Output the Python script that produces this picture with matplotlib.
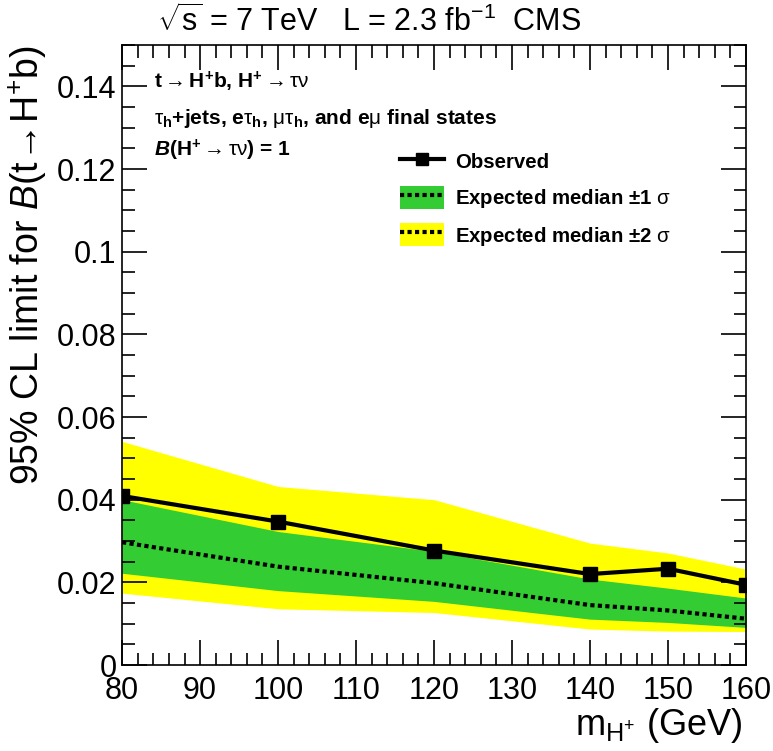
import numpy as np
import matplotlib
matplotlib.use("Agg")
import matplotlib.pyplot as plt
from matplotlib.lines import Line2D
from matplotlib.patches import Patch
from matplotlib.ticker import MultipleLocator

# fonts: Helvetica look-alike for everything, incl. math
plt.rcParams['font.family'] = ['Liberation Sans', 'DejaVu Sans']
plt.rcParams['mathtext.fontset'] = 'custom'
plt.rcParams['mathtext.rm'] = 'Liberation Sans'
plt.rcParams['mathtext.it'] = 'Liberation Sans:italic'
plt.rcParams['mathtext.bf'] = 'Liberation Sans:bold'
plt.rcParams['mathtext.bfit'] = 'Liberation Sans:italic:bold'

# Data
mass = [80, 100, 120, 140, 150, 160]
observed = [0.0409, 0.0347, 0.0277, 0.0220, 0.0233, 0.0194]
exp_median = [0.0297, 0.0238, 0.0198, 0.0145, 0.0132, 0.0112]
exp_m1 = [0.0222, 0.0180, 0.0154, 0.0111, 0.0103, 0.0091]
exp_p1 = [0.0400, 0.0323, 0.0275, 0.0208, 0.0186, 0.0162]
exp_m2 = [0.0174, 0.0136, 0.0127, 0.0087, 0.0082, 0.0081]
exp_p2 = [0.0541, 0.0432, 0.0400, 0.0295, 0.0271, 0.0232]

green = '#33cc33'
yellow = '#ffff00'
dots = (0, (1, 0.8))
arrow = r'$\rightarrow$'

fig = plt.figure(figsize=(7.73, 7.51), dpi=100)
ax = fig.add_axes([0.158, 0.1145, 0.807, 0.8255])

ax.fill_between(mass, exp_m2, exp_p2, color=yellow, lw=0)
ax.fill_between(mass, exp_m1, exp_p1, color=green, lw=0)
ax.plot(mass, exp_median, color='black', lw=3, ls=dots)
ax.plot(mass, observed, color='black', lw=3, marker='s', ms=10)

ax.set_xlim(80, 160)
ax.set_ylim(0, 0.15)
ax.xaxis.set_major_locator(MultipleLocator(10))
ax.xaxis.set_minor_locator(MultipleLocator(2))
ax.yaxis.set_major_locator(MultipleLocator(0.02))
ax.yaxis.set_minor_locator(MultipleLocator(0.005))
ax.yaxis.set_major_formatter(plt.FuncFormatter(lambda v, p: '0' if v == 0 else f'{v:g}'))
ax.tick_params(which='both', direction='in', top=True, right=True, width=1.2)
ax.tick_params(which='major', length=18, labelsize=22)
ax.tick_params(which='minor', length=9)
ax.tick_params(axis='x', pad=8)
ax.tick_params(axis='y', pad=4)
for s in ax.spines.values():
    s.set_linewidth(1.2)

ax.set_ylabel(r"95% CL limit for $\mathit{B}$(t$\!\rightarrow\!$H$^{+}$b)", fontsize=27)
ax.yaxis.set_label_coords(-0.118, 1.0)
ax.yaxis.label.set_ha('right')
ax.set_xlabel(r"m$_{\mathrm{H}^{+}}$ (GeV)", fontsize=26)
ax.xaxis.set_label_coords(0.994, -0.066)
ax.xaxis.label.set_ha('right')

fig.text(0.203, 0.971, r"$\sqrt{\mathrm{s}}$ = 7 TeV   L = 2.3 fb$^{-1}$  CMS",
         fontsize=22, va='center')

fs = 15
tx = 0.051
ax.text(tx, 0.940, "t" + arrow + r"H$^{\mathbf{+}}$b, H$^{\mathbf{+}}$" + arrow + r"$\mathrm{\tau\nu}$",
        transform=ax.transAxes, fontsize=fs, fontweight='bold', va='center')
ax.text(tx, 0.882,
        r"$\mathrm{\tau}_{\mathbf{h}}$+jets, e$\mathrm{\tau}_{\mathbf{h}}$, "
        r"$\mathrm{\mu\tau}_{\mathbf{h}}$, and e$\mathrm{\mu}$ final states",
        transform=ax.transAxes, fontsize=fs, fontweight='bold', va='center')
ax.text(tx, 0.830, r"$\mathbfit{B}$(H$^{\mathbf{+}}$" + arrow + r"$\mathrm{\tau\nu}$) = 1",
        transform=ax.transAxes, fontsize=fs, fontweight='bold', va='center')

h_obs = Line2D([], [], color='black', lw=3, marker='s', ms=9)
h_1s = (Patch(facecolor=green, lw=0), Line2D([], [], color='black', lw=3, ls=dots))
h_2s = (Patch(facecolor=yellow, lw=0), Line2D([], [], color='black', lw=3, ls=dots))
leg = ax.legend([h_obs, h_1s, h_2s],
                ["Observed",
                 r"Expected median ±1 $\mathrm{\sigma}$",
                 r"Expected median ±2 $\mathrm{\sigma}$"],
                loc='upper left', bbox_to_anchor=(0.4455, 0.831), frameon=False,
                prop={'size': 14.7, 'weight': 'bold'},
                handlelength=2.14, handleheight=1.34, labelspacing=0.65,
                handletextpad=0.55, borderaxespad=0, borderpad=0)

fig.savefig("out.png", dpi=100)
